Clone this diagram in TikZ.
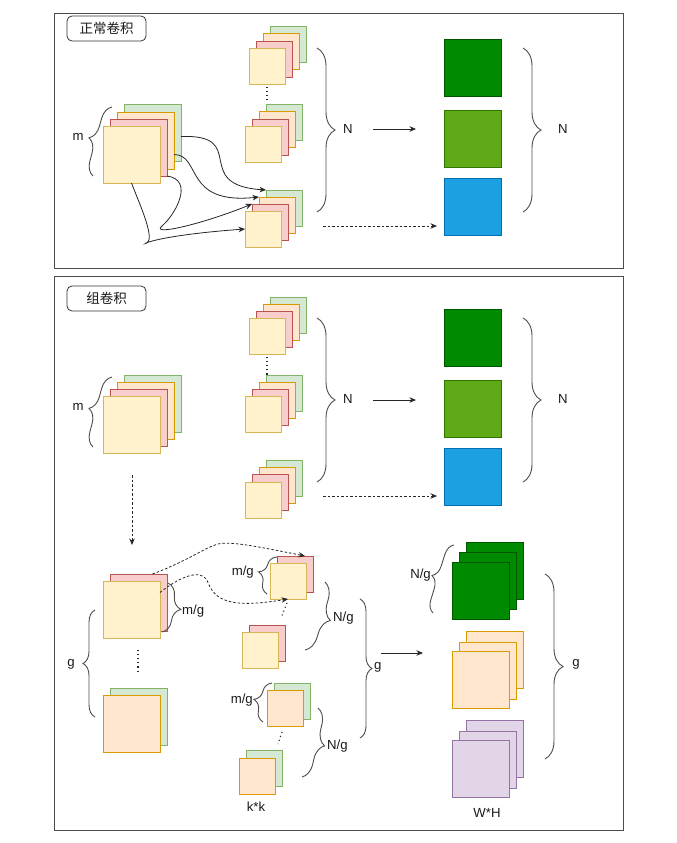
\documentclass[tikz,border=0pt]{standalone}
\usepackage{fontspec}
\setmainfont{Liberation Sans}
\newfontfamily\cjk{Noto Sans CJK SC}
\usetikzlibrary{arrows.meta,decorations.pathreplacing,calc}
\definecolor{cGf}{HTML}{D5E8D4}\definecolor{cGd}{HTML}{82B366}
\definecolor{cOf}{HTML}{FFE6CC}\definecolor{cOd}{HTML}{D79B00}
\definecolor{cRf}{HTML}{F8CECC}\definecolor{cRd}{HTML}{B85450}
\definecolor{cYf}{HTML}{FFF2CC}\definecolor{cYd}{HTML}{D6B656}
\definecolor{cPf}{HTML}{E1D5E7}\definecolor{cPd}{HTML}{9673A6}
\definecolor{oGf}{HTML}{008A00}\definecolor{oGd}{HTML}{005700}
\definecolor{oLf}{HTML}{60A917}\definecolor{oLd}{HTML}{2D7600}
\definecolor{oBf}{HTML}{1BA1E2}\definecolor{oBd}{HTML}{006EAF}
\definecolor{txt}{HTML}{1A1A1A}
\definecolor{brcol}{HTML}{4D4D4D}
\definecolor{frm}{HTML}{4D4D4D}
\begin{document}
\begin{tikzpicture}[x=1pt,y=-1pt,
  sq/.style={draw, line width=0.8pt, inner sep=0pt, outer sep=0pt, anchor=north west},
  big/.style={sq, minimum width=57pt, minimum height=57pt},
  sml/.style={sq, minimum width=36pt, minimum height=36pt},
  G/.style={fill=cGf, draw=cGd}, O/.style={fill=cOf, draw=cOd},
  R/.style={fill=cRf, draw=cRd}, Y/.style={fill=cYf, draw=cYd},
  P/.style={fill=cPf, draw=cPd},
  OG/.style={fill=oGf, draw=oGd}, OL/.style={fill=oLf, draw=oLd}, OB/.style={fill=oBf, draw=oBd},
  lbl/.style={font=\fontsize{13.2}{16}\selectfont, text=txt, inner sep=1pt},
  brc/.style={draw=brcol, line width=0.9pt, decorate, decoration={brace, amplitude=#1}},
  arr/.style={-{Stealth[length=6.5pt,width=5.5pt]}, line width=0.8pt, draw=black!85},
  dsh/.style={arr, dash pattern=on 2.5pt off 2pt},
  dts/.style={draw=black!85, line width=1.1pt, dash pattern=on 1.1pt off 3pt},
  ttl/.style={draw=black!80, rounded corners=5pt, line width=0.8pt, minimum width=79pt, minimum height=25pt, inner sep=0pt, font=\cjk\fontsize{13.5}{16}\selectfont, text=txt},
  frame/.style={draw=frm, line width=0.9pt}
]
\useasboundingbox (0,0) rectangle (677,843);
\fill[white] (0,0) rectangle (677,843);

% ================= TOP PANEL =================
\draw[frame] (54,13) rectangle (623,268);
\node[ttl] (t1) at (106.5,28.5) {正常卷积};

% input stack
\node[big,G] (tg) at (124,104) {};
\node[big,O] (to) at (117,112) {};
\node[big,R] (tr) at (110,119) {};
\node[big,Y] (ty) at (103,126) {};
\coordinate (tmA) at (93,176); \coordinate (tmB) at (112,107);
\draw[brc=14] (tmA) -- (tmB);
\node[lbl] (tm) at (78,137) {m};

% kernel stacks
\node[sml,G] (k1g) at (270,26) {};
\node[sml,O] (k1o) at (263,33) {};
\node[sml,R] (k1r) at (256,41) {};
\node[sml,Y] (k1y) at (249,48) {};
\node[sml,G] (k2g) at (266,104) {};
\node[sml,O] (k2o) at (259,111) {};
\node[sml,R] (k2r) at (252,119) {};
\node[sml,Y] (k2y) at (245,126) {};
\node[sml,G] (k3g) at (266,190) {};
\node[sml,O] (k3o) at (259,197) {};
\node[sml,R] (k3r) at (252,204) {};
\node[sml,Y] (k3y) at (245,211) {};
\draw[dts] (k1y.south -| 267,0) ++(0,3) -- (267,101);

\coordinate (tnA) at (317,48); \coordinate (tnB) at (317,212);
\draw[brc=18] (tnA) -- (tnB);
\node[lbl] (tn) at (348,129) {N};
\coordinate (ta1) at (373,129); \coordinate (ta2) at (416,129);
\draw[arr] (ta1) -- (ta2);

% outputs
\node[big,OG] (tog) at (444,39) {};
\node[big,OL] (tol) at (444,110) {};
\node[big,OB] (tob) at (444,178) {};
\coordinate (tnC) at (523,48); \coordinate (tnD) at (523,212);
\draw[brc=18] (tnC) -- (tnD);
\node[lbl] (tn2) at (563,129) {N};
\coordinate (td1) at (323,226);
\draw[dsh] (td1) -- ([xshift=-7pt]tob.west |- td1);

% curves
\draw[arr] ([yshift=-4pt]tg.east) .. controls (250,134) and (190,185) .. (k3g.north west);
\draw[arr] ([yshift=-14pt]to.east) .. controls (202,155) and (183,205) .. (k3o.north west);
\draw[arr] (tr.south east) .. controls (195,180) and (175,215) .. (162,226) .. controls (150,236) and (200,225) .. (k3r.north west);
\draw[arr] (ty.south) .. controls (140,205) and (155,238) .. (147,243) .. controls (140,246) and (150,236) .. (k3y.west);

% ================= BOTTOM PANEL =================
\draw[frame] (54,276) rectangle (623,830);
\node[ttl] (t2) at (106.5,298.5) {组卷积};

\node[big,G] (bg) at (124,375) {};
\node[big,O] (bo) at (117,382) {};
\node[big,R] (br) at (110,389) {};
\node[big,Y] (by) at (103,396) {};
\coordinate (bmA) at (93,447); \coordinate (bmB) at (112,377);
\draw[brc=14] (bmA) -- (bmB);
\node[lbl] (bm) at (78,407) {m};

\node[sml,G] (b1g) at (270,297) {};
\node[sml,O] (b1o) at (263,304) {};
\node[sml,R] (b1r) at (256,311) {};
\node[sml,Y] (b1y) at (249,318) {};
\node[sml,G] (b2g) at (266,375) {};
\node[sml,O] (b2o) at (259,382) {};
\node[sml,R] (b2r) at (252,389) {};
\node[sml,Y] (b2y) at (245,396) {};
\node[sml,G] (b3g) at (266,460) {};
\node[sml,O] (b3o) at (259,467) {};
\node[sml,R] (b3r) at (252,474) {};
\node[sml,Y] (b3y) at (245,482) {};
\draw[dts] (267,357) -- (267,375);

\coordinate (bnA) at (317,318); \coordinate (bnB) at (317,482);
\draw[brc=18] (bnA) -- (bnB);
\node[lbl] (bn) at (348,399) {N};
\coordinate (ba1) at (373,400); \coordinate (ba2) at (416,400);
\draw[arr] (ba1) -- (ba2);

\node[big,OG] (bog) at (444,309) {};
\node[big,OL] (bol) at (444,380) {};
\node[big,OB] (bob) at (444,448) {};
\coordinate (bnC) at (523,318); \coordinate (bnD) at (523,482);
\draw[brc=18] (bnC) -- (bnD);
\node[lbl] (bn2) at (563,399) {N};
\coordinate (bd1) at (323,496);
\draw[dsh] (bd1) -- ([xshift=-7pt]bob.west |- bd1);

\coordinate (vd1) at (132,475);
\draw[dsh] (vd1) -- (132,545);

% lower group section
\node[big,R] (g1r) at (110,574) {};
\node[big,Y] (g1y) at (103,581) {};
\node[big,G] (g2g) at (110,688) {};
\node[big,O] (g2o) at (103,695) {};
\draw[dts] (138,650) -- (138,674);
\coordinate (gmA) at (168,583); \coordinate (gmB) at (162,632);
\draw[brc=16] (gmA) -- (gmB);
\node[lbl, anchor=west] (gm) at (181,611) {m/g};
\coordinate (ggA) at (95,717); \coordinate (ggB) at (95,610);
\draw[brc=12] (ggA) -- (ggB);
\node[lbl] (gg) at (71,664) {g};

\node[sml,R] (sAr) at (277,556) {};
\node[sml,Y] (sAy) at (270,563) {};
\node[sml,R] (sBr) at (249,625) {};
\node[sml,Y] (sBy) at (242,632) {};
\node[sml,G] (sCg) at (274,683) {};
\node[sml,O] (sCo) at (267,690) {};
\node[sml,G] (sDg) at (246,750) {};
\node[sml,O] (sDo) at (239,758) {};
\draw[dts] (287,603) -- (281,618);
\draw[dts] (282,732) -- (278,744);

\coordinate (amA) at (267,594); \coordinate (amB) at (277,557);
\draw[brc=14] (amA) -- (amB);
\node[lbl, anchor=east] (am) at (255,572) {m/g};
\coordinate (cmA) at (263,722); \coordinate (cmB) at (272,683);
\draw[brc=14] (cmA) -- (cmB);
\node[lbl, anchor=east] (cm) at (254,700) {m/g};
\coordinate (nuA) at (325,582); \coordinate (nuB) at (305,650);
\draw[brc=16] (nuA) -- (nuB);
\node[lbl, anchor=west] (nu) at (332,618) {N/g};
\coordinate (nlA) at (318,708); \coordinate (nlB) at (302,777);
\draw[brc=15] (nlA) -- (nlB);
\node[lbl, anchor=west] (nl) at (326,746) {N/g};
\node[lbl] (kk) at (256,807) {k*k};

\coordinate (mgA) at (360,599); \coordinate (mgB) at (360,738);
\draw[brc=12] (mgA) -- (mgB);
\node[lbl, anchor=west] (mg) at (373,667) {g};
\coordinate (la1) at (381,653); \coordinate (la2) at (423,653);
\draw[arr] (la1) -- (la2);

\node[big,OG] (og3) at (466,542) {};
\node[big,OG] (og2) at (459,552) {};
\node[big,OG] (og1) at (452,562) {};
\node[big,O] (oo3) at (466,631) {};
\node[big,O] (oo2) at (459,642) {};
\node[big,O] (oo1) at (452,651) {};
\node[big,P] (op3) at (466,720) {};
\node[big,P] (op2) at (459,731) {};
\node[big,P] (op1) at (452,740) {};
\coordinate (onA) at (433,613); \coordinate (onB) at (454,545);
\draw[brc=12] (onA) -- (onB);
\node[lbl, anchor=east] (on) at (432,575) {N/g};
\coordinate (rgA) at (545,574); \coordinate (rgB) at (545,759);
\draw[brc=18] (rgA) -- (rgB);
\node[lbl] (rg) at (576,664) {g};
\node[lbl] (wh) at (487,813) {W*H};

% dashed curves
\draw[dsh] ([xshift=14pt]g1r.north) .. controls (185,562) and (205,548) .. (215,545) .. controls (226,540) and (255,546) .. ([xshift=10pt]sAr.north);
\draw[dsh] ([yshift=17pt]g1y.east) .. controls (178,578) and (200,568) .. (207,580) .. controls (214,600) and (228,609) .. (sAy.south);
\end{tikzpicture}
\end{document}
